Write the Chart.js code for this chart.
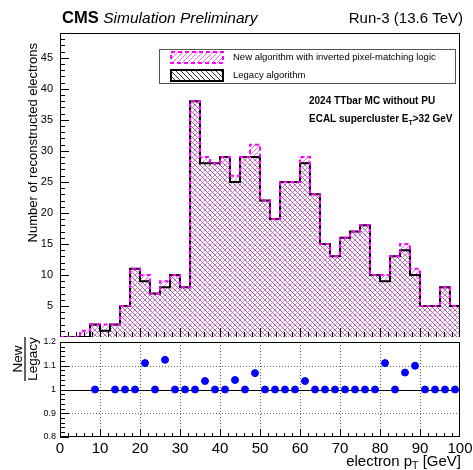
<!DOCTYPE html>
<html>
<head>
<meta charset="utf-8">
<script src="https://cdn.jsdelivr.net/npm/chart.js@4.4.1/dist/chart.umd.min.js"></script>
<style>
  body { margin: 0; background: #fff; }
  #wrap { position: relative; width: 473px; height: 470px; }
  canvas { position: absolute; left: 0; }
  #topPad { top: 0; }
  #ratioPad { top: 337px; }
</style>
</head>
<body>
<div id="wrap">
  <canvas id="topPad" width="473" height="337"></canvas>
  <canvas id="ratioPad" width="473" height="133"></canvas>
</div>
<script>
// bin low edges of the electron pT histogram (GeV)
var binLow = [0, 2.5, 5, 7.5, 10, 12.5, 15, 17.5, 20, 22.5,
              25, 27.5, 30, 32.5, 35, 37.5, 40, 42.5, 45, 47.5,
              50, 52.5, 55, 57.5, 60, 62.5, 65, 67.5, 70, 72.5,
              75, 77.5, 80, 82.5, 85, 87.5, 90, 92.5, 95, 97.5];
var legacy  = [0, 0, 0, 2, 1, 2, 5, 11, 9, 7,
               8, 10, 8, 38, 28, 28, 29, 25, 29, 29,
               22, 19, 25, 25, 28, 23, 15, 13, 16, 17,
               18, 10, 9, 13, 14, 10, 5, 5, 8, 5];
var newAlgo = [0, 0, 1, 2, 2, 2, 5, 11, 10, 7,
               9, 10, 8, 38, 29, 28, 29, 26, 29, 31,
               22, 19, 25, 25, 29, 23, 15, 13, 16, 17,
               18, 10, 10, 13, 15, 11, 5, 5, 8, 5];
var xTicks = [0, 10, 20, 30, 40, 50, 60, 70, 80, 90, 100];
var yTicks = [5, 10, 15, 20, 25, 30, 35, 40, 45];
var ratioTicks = [0.8, 0.9, 1, 1.1, 1.2];

var FONT = '"Liberation Sans", Arial, sans-serif';

function steps(vals) {
    var pts = [];
    for (var i = 0; i < vals.length; i++) pts.push({x: binLow[i], y: vals[i]});
    pts.push({x: 100, y: vals[vals.length - 1]});
    return pts;
}

function hatch(color, dir) {
    var s = 5;
    var c = document.createElement('canvas');
    c.width = s; c.height = s;
    var g = c.getContext('2d');
    g.strokeStyle = color;
    g.lineWidth = 1;
    g.beginPath();
    if (dir == '/') {
        g.moveTo(-1, s + 1); g.lineTo(s + 1, -1);
        g.moveTo(-1, 1); g.lineTo(1, -1);
        g.moveTo(s - 1, s + 1); g.lineTo(s + 1, s - 1);
    } else {
        g.moveTo(-1, -1); g.lineTo(s + 1, s + 1);
        g.moveTo(-1, s - 1); g.lineTo(1, s + 1);
        g.moveTo(s - 1, -1); g.lineTo(s + 1, 1);
    }
    g.stroke();
    return document.createElement('canvas').getContext('2d').createPattern(c, 'repeat');
}

var hatchNew = hatch('rgba(235,70,235,0.75)', '/');
var hatchLeg = hatch('rgba(50,20,50,0.6)', '\\');
var hatchLegKey = hatch('rgba(0,0,0,0.8)', '\\');

function textSub(ctx, x, y, parts) {
    // parts: [text, isSub]
    parts.forEach(function(p) {
        if (p[1]) {
            var f = ctx.font;
            ctx.font = f.replace(/(\d+(\.\d+)?)px/, function(m, n) { return (n * 0.7) + 'px'; });
            ctx.fillText(p[0], x, y + 3);
            x += ctx.measureText(p[0]).width;
            ctx.font = f;
        } else {
            ctx.fillText(p[0], x, y);
            x += ctx.measureText(p[0]).width;
        }
    });
}

var topDecor = {
    id: 'topDecor',
    afterDraw: function(chart) {
        var ctx = chart.ctx, a = chart.chartArea;
        var xs = chart.scales.x, ys = chart.scales.y;
        ctx.save();
        // frame
        ctx.strokeStyle = '#000';
        ctx.lineWidth = 1;
        ctx.strokeRect(a.left + 0.5, a.top + 0.5, a.right - a.left - 1, a.bottom - a.top);
        // ticks inside frame
        ctx.beginPath();
        for (var v = 1; v < 49; v++) {
            var py = Math.round(ys.getPixelForValue(v)) + 0.5;
            var len = v % 5 == 0 ? 9 : 5;
            ctx.moveTo(a.left, py); ctx.lineTo(a.left + len, py);
        }
        for (var u = 2; u < 100; u += 2) {
            var px = Math.round(xs.getPixelForValue(u)) + 0.5;
            var l2 = u % 10 == 0 ? 9 : 5;
            ctx.moveTo(px, a.bottom); ctx.lineTo(px, a.bottom - l2);
        }
        ctx.stroke();

        // header
        ctx.fillStyle = '#000';
        ctx.textBaseline = 'alphabetic';
        ctx.textAlign = 'left';
        ctx.font = 'bold 16.5px ' + FONT;
        ctx.fillText('CMS', 62, 23);
        var w = ctx.measureText('CMS ').width;
        ctx.font = 'italic 15.5px ' + FONT;
        ctx.fillText('Simulation Preliminary', 62 + w, 23);
        ctx.font = '15px ' + FONT;
        ctx.textAlign = 'right';
        ctx.fillText('Run-3 (13.6 TeV)', 463, 23);

        // y title
        ctx.save();
        ctx.translate(33, 43);
        ctx.rotate(-Math.PI / 2);
        ctx.font = '13px ' + FONT;
        ctx.textAlign = 'right';
        ctx.textBaseline = 'middle';
        ctx.fillText('Number of reconstructed electrons', 0, 0);
        ctx.restore();

        // legend
        ctx.fillStyle = '#fff';
        ctx.fillRect(159, 49, 296, 34);
        ctx.strokeStyle = '#555';
        ctx.lineWidth = 1;
        ctx.strokeRect(159.5, 49.5, 296, 34);
        ctx.fillStyle = hatchNew;
        ctx.fillRect(171, 52, 52, 11);
        ctx.strokeStyle = '#ff00ff';
        ctx.lineWidth = 2;
        ctx.setLineDash([4, 3]);
        ctx.strokeRect(171, 52, 52, 11);
        ctx.setLineDash([]);
        ctx.fillStyle = hatchLegKey;
        ctx.fillRect(171, 70, 52, 11);
        ctx.strokeStyle = '#000';
        ctx.strokeRect(171, 70, 52, 11);
        ctx.fillStyle = '#000';
        ctx.font = '9.5px ' + FONT;
        ctx.textAlign = 'left';
        ctx.textBaseline = 'middle';
        ctx.fillText('New algorithm with inverted pixel-matching logic', 233, 57);
        ctx.fillText('Legacy algorithm', 233, 75);

        // annotations
        ctx.font = 'bold 10px ' + FONT;
        ctx.textBaseline = 'alphabetic';
        ctx.fillText('2024 TTbar MC without PU', 309, 104);
        textSub(ctx, 309, 122, [['ECAL supercluster E', false], ['T', true], ['>32 GeV', false]]);
        ctx.restore();
    }
};

var ratioDecor = {
    id: 'ratioDecor',
    beforeDatasetsDraw: function(chart) {
        var ctx = chart.ctx, a = chart.chartArea;
        var xs = chart.scales.x, ys = chart.scales.y;
        ctx.save();
        ctx.strokeStyle = '#666';
        ctx.lineWidth = 1;
        ctx.setLineDash([1, 2]);
        ctx.beginPath();
        xTicks.slice(1, -1).forEach(function(v) {
            var px = Math.round(xs.getPixelForValue(v)) + 0.5;
            ctx.moveTo(px, a.top); ctx.lineTo(px, a.bottom);
        });
        [0.9, 1.1].forEach(function(v) {
            var py = Math.round(ys.getPixelForValue(v)) + 0.5;
            ctx.moveTo(a.left, py); ctx.lineTo(a.right, py);
        });
        ctx.stroke();
        ctx.setLineDash([]);
        ctx.strokeStyle = '#000';
        ctx.beginPath();
        var p1 = Math.round(ys.getPixelForValue(1)) + 0.5;
        ctx.moveTo(a.left, p1); ctx.lineTo(a.right, p1);
        ctx.stroke();
        ctx.restore();
    },
    afterDraw: function(chart) {
        var ctx = chart.ctx, a = chart.chartArea;
        var xs = chart.scales.x, ys = chart.scales.y;
        ctx.save();
        ctx.strokeStyle = '#000';
        ctx.lineWidth = 1;
        ctx.strokeRect(a.left + 0.5, a.top + 0.5, a.right - a.left - 1, a.bottom - a.top - 1);
        ctx.beginPath();
        for (var k = 0; k <= 20; k++) {
            var v = 0.8 + k * 0.02;
            var py = Math.round(ys.getPixelForValue(v)) + 0.5;
            var len = k % 5 == 0 ? 9 : 5;
            ctx.moveTo(a.left, py); ctx.lineTo(a.left + len, py);
        }
        for (var u = 2; u < 100; u += 2) {
            var px = Math.round(xs.getPixelForValue(u)) + 0.5;
            var l2 = u % 10 == 0 ? 8 : 4;
            ctx.moveTo(px, a.bottom); ctx.lineTo(px, a.bottom - l2);
        }
        ctx.stroke();

        // y title: New / Legacy
        ctx.save();
        ctx.translate(25, 22);
        ctx.rotate(-Math.PI / 2);
        ctx.fillStyle = '#000';
        ctx.font = '13.5px ' + FONT;
        ctx.textAlign = 'center';
        ctx.textBaseline = 'alphabetic';
        ctx.fillText('New', 0, -3);
        ctx.textBaseline = 'top';
        ctx.fillText('Legacy', 0, 2);
        ctx.fillRect(-22, -0.6, 44, 1.2);
        ctx.restore();

        // x title
        ctx.fillStyle = '#000';
        ctx.font = '15px ' + FONT;
        ctx.textBaseline = 'alphabetic';
        ctx.textAlign = 'left';
        var parts = [['electron p', false], ['T', true], [' [GeV]', false]];
        var tw = 0;
        parts.forEach(function(p) {
            if (p[1]) { ctx.font = '10.5px ' + FONT; tw += ctx.measureText(p[0]).width; ctx.font = '15px ' + FONT; }
            else tw += ctx.measureText(p[0]).width;
        });
        textSub(ctx, 461 - tw, 129, parts);
        ctx.restore();
    }
};

var ratioPts = [];
for (var i = 0; i < binLow.length; i++) {
    if (legacy[i] > 0) {
        var r = newAlgo[i] / legacy[i];
        if (r <= 1.2) ratioPts.push({x: binLow[i] + 1.25, y: r});
    }
}

new Chart(document.getElementById('topPad').getContext('2d'), {
    type: 'line',
    data: {
        datasets: [{
            label: 'New algorithm with inverted pixel-matching logic',
            data: steps(newAlgo),
            stepped: true,
            fill: 'origin',
            backgroundColor: hatchNew,
            borderColor: '#ff00ff',
            borderWidth: 2,
            borderDash: [4, 3],
            pointRadius: 0
        }, {
            label: 'Legacy algorithm',
            data: steps(legacy),
            stepped: true,
            fill: 'origin',
            backgroundColor: hatchLeg,
            borderColor: '#000000',
            borderWidth: 2,
            pointRadius: 0
        }]
    },
    options: {
        responsive: false,
        animation: false,
        layout: { padding: { top: 33, right: 13, bottom: 0, left: 0 } },
        plugins: {
            legend: { display: false },
            tooltip: { enabled: false },
            filler: { drawTime: 'beforeDatasetsDraw' }
        },
        scales: {
            x: { type: 'linear', min: 0, max: 100, display: false },
            y: {
                min: 0, max: 49,
                afterBuildTicks: function(s) { s.ticks = yTicks.map(function(v) { return {value: v}; }); },
                afterFit: function(s) { s.width = 60; s.paddingTop = 0; s.paddingBottom = 0; },
                grid: { display: false, drawTicks: false },
                border: { display: false },
                ticks: { color: '#000', padding: 7, font: { family: FONT, size: 11 } }
            }
        }
    },
    plugins: [topDecor]
});

new Chart(document.getElementById('ratioPad').getContext('2d'), {
    type: 'scatter',
    data: {
        datasets: [{
            label: 'New / Legacy',
            data: ratioPts,
            backgroundColor: '#0000ff',
            borderColor: '#0000ff',
            pointRadius: 3.5
        }]
    },
    options: {
        responsive: false,
        animation: false,
        layout: { padding: { top: 0, right: 13, bottom: 0, left: 0 } },
        plugins: { legend: { display: false }, tooltip: { enabled: false } },
        scales: {
            x: {
                type: 'linear', min: 0, max: 100,
                afterBuildTicks: function(s) { s.ticks = xTicks.map(function(v) { return {value: v}; }); },
                afterFit: function(s) { s.height = 33; s.paddingLeft = 0; s.paddingRight = 0; },
                grid: { display: false, drawTicks: false },
                border: { display: false },
                ticks: { color: '#000', padding: 3, maxRotation: 0, autoSkip: false, font: { family: FONT, size: 15 } }
            },
            y: {
                min: 0.8, max: 1.2,
                afterBuildTicks: function(s) { s.ticks = ratioTicks.map(function(v) { return {value: v}; }); },
                afterFit: function(s) { s.width = 60; s.paddingTop = 0; s.paddingBottom = 0; },
                grid: { display: false, drawTicks: false },
                border: { display: false },
                ticks: { color: '#000', padding: 4, font: { family: FONT, size: 9 },
                         callback: function(v) { return String(v); } }
            }
        }
    },
    plugins: [ratioDecor]
});
</script>
</body>
</html>
